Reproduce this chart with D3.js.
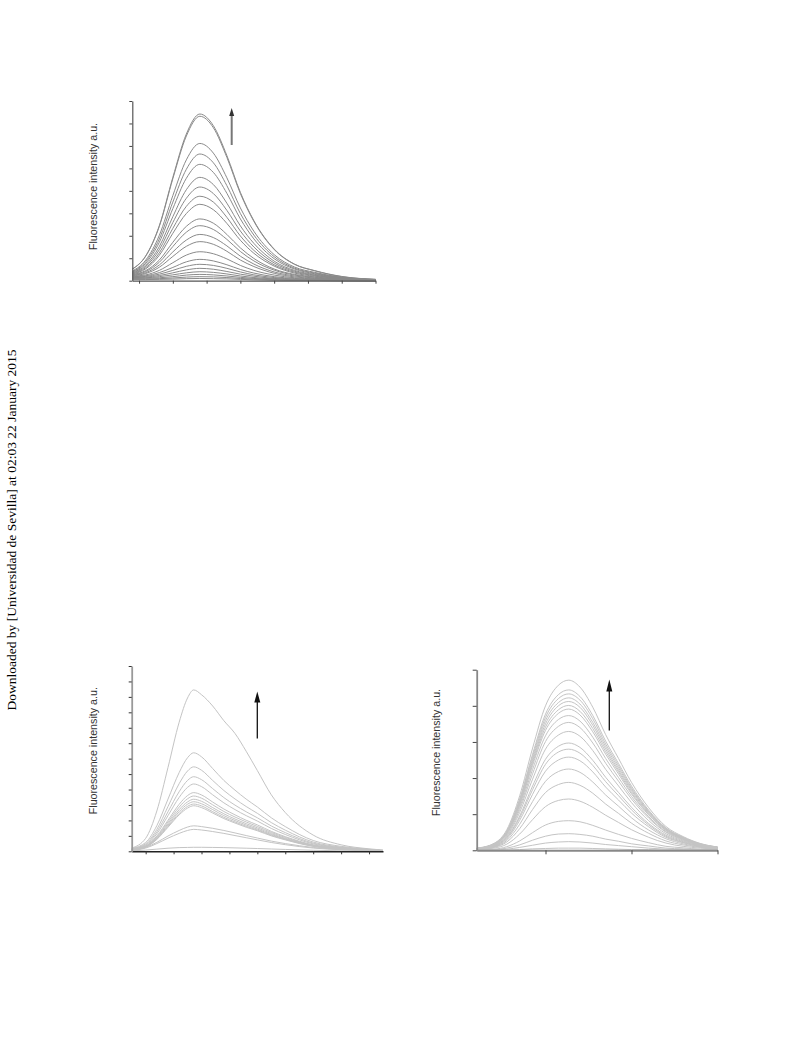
<!DOCTYPE html>
<html><head><meta charset="utf-8">
<script src="https://cdn.jsdelivr.net/npm/d3@7"></script>
<style>html,body{margin:0;padding:0;background:#fff;} svg{display:block;}</style>
</head><body>
<svg id="c" width="812" height="1057"></svg>
<script>
// ---------------- DATA ----------------
const yLabel = "Fluorescence intensity a.u.";
const watermark = "Downloaded by [Universidad de Sevilla] at 02:03 22 January 2015";

// Panel A (top)
const aWavelengths = [390,410,430,450,470,490,510,530,550,570,600,630,660,700,750];
const aSeries = [
 [52,111,245,460,653,742,690,557,393,267,141,74,45,19,6],
 [51,110,242,454,644,732,681,549,388,264,139,73,44,18,6],
 [43,92,202,379,538,611,568,458,324,220,116,61,37,15,5],
 [40,85,186,350,496,564,525,423,299,203,107,56,34,14,5],
 [38,78,171,321,456,518,482,389,275,186,98,52,31,13,4],
 [36,70,152,285,405,460,428,345,244,166,87,46,28,12,4],
 [34,64,138,259,367,417,388,313,221,150,79,42,25,10,3],
 [32,58,124,233,331,376,350,282,199,135,71,38,23,9,3],
 [30,53,113,211,299,340,316,255,180,122,65,34,20,9,3],
 [28,45,92,171,242,275,256,206,146,99,52,28,17,7,2],
 [26,41,82,152,216,245,228,184,130,88,47,25,15,6,2],
 [24,36,70,128,181,206,192,155,109,74,39,21,12,5,2],
 [22,32,60,108,153,174,162,131,92,63,33,17,10,4,1],
 [20,26,46,80,114,129,120,97,68,46,25,13,8,3,1],
 [18,22,36,59,84,95,88,71,50,34,18,10,6,2,1],
 [16,19,29,46,64,73,68,55,39,26,14,7,4,2,1],
 [14,16,23,35,48,55,51,41,29,20,10,6,3,1,0],
 [12,13,18,26,35,40,37,30,21,14,8,4,2,1,0],
 [10,11,13,18,25,28,26,21,15,10,5,3,2,1,0],
 [8,8,9,12,16,18,17,14,10,7,4,2,1,0,0],
 [5,5,6,7,9,10,9,8,6,4,2,1,1,0,0]
];
const aXDomain = [390,750];
const aXTicks = [400,450,500,550,600,650,700,750];
const aYDomain = [0,800];
const aYTicks = [0,100,200,300,400,500,600,700,800];

// Panel B (bottom left)
const bWavelengths = [375,400,420,440,460,475,486,500,520,540,560,580,600,625,650,700,750,800,825];
const bSeries = [
 [21,84,261,543,836,993,1045,1014,941,846,763,648,523,366,251,105,42,16,8],
 [19,57,166,338,510,606,638,612,536,459,396,338,287,217,160,70,32,13,6],
 [16,49,142,290,438,520,547,525,459,394,339,290,246,186,137,60,27,11,5],
 [14,43,126,256,386,459,483,464,406,348,299,256,217,164,121,53,24,10,5],
 [13,39,113,231,349,414,436,419,366,314,270,231,196,148,109,48,22,9,4],
 [11,34,99,201,304,361,380,365,319,274,236,201,171,129,95,42,19,8,4],
 [11,32,93,190,286,340,358,344,301,258,222,190,161,122,90,39,18,7,4],
 [10,30,88,179,270,320,337,324,283,243,209,179,152,115,84,37,17,7,3],
 [10,29,83,170,257,305,321,308,270,231,199,170,144,109,80,35,16,6,3],
 [9,28,80,162,245,291,306,294,257,220,190,162,138,104,77,34,15,6,3],
 [9,27,77,156,236,280,295,283,248,212,183,156,133,100,74,32,15,6,3],
 [7,25,58,99,135,157,165,160,149,135,119,102,86,66,50,25,12,5,2],
 [6,21,50,85,116,135,142,138,128,116,102,88,74,57,43,21,10,4,2],
 [3,8,14,20,24,25,26,26,25,24,22,20,18,15,12,7,3,1,1]
];
const bXDomain = [375,825];
const bXTicks = [400,450,500,550,600,650,700,750,800];
const bYDomain = [0,1200];
const bYTicks = [0,100,200,300,400,500,600,700,800,900,1000,1100,1200];

// Panel C (bottom right)
const cWavelengths = [420,440,455,470,485,500,515,527,540,555,570,585,600,620,640,660,680,700];
const cSeries = [
 [6,19,57,151,283,400,457,471,452,396,320,254,188,118,66,38,19,9],
 [5,18,53,142,266,377,431,444,426,373,302,240,178,111,62,36,18,9],
 [5,17,52,139,260,368,420,433,416,364,294,234,173,108,61,35,17,9],
 [5,17,51,135,253,359,409,422,405,354,287,228,169,106,59,34,17,8],
 [5,16,49,132,247,350,400,412,396,346,280,222,165,103,58,33,16,8],
 [5,16,48,128,241,341,389,401,385,337,273,217,160,100,56,32,16,8],
 [5,16,47,125,235,332,379,391,375,328,266,211,156,98,55,31,16,8],
 [4,15,45,119,224,317,362,373,358,313,254,201,149,93,52,30,15,7],
 [4,14,42,113,212,301,343,354,340,297,241,191,142,89,50,28,14,7],
 [4,13,39,105,197,280,319,329,316,276,224,178,132,82,46,26,13,7],
 [4,12,36,95,178,252,288,297,285,249,202,160,119,74,42,24,12,6],
 [3,11,34,90,168,238,272,280,269,235,190,151,112,70,39,22,11,6],
 [3,10,31,83,155,219,250,258,248,217,175,139,103,65,36,21,10,5],
 [3,9,27,72,135,191,218,225,216,189,153,122,90,56,32,18,9,5],
 [2,8,23,60,113,160,182,188,180,158,128,102,75,47,26,15,8,4],
 [2,6,17,45,85,121,138,142,136,119,97,77,57,36,20,11,6,3],
 [1,3,10,26,49,70,80,82,79,69,56,44,33,21,11,7,3,2],
 [1,2,6,15,28,39,45,46,44,39,31,25,18,12,6,4,2,1],
 [0,1,3,8,14,20,23,24,23,20,16,13,10,6,3,2,1,0],
 [0,0,1,2,4,5,6,6,6,5,4,3,2,2,1,1,0,0]
];
const cXDomain = [420,700];
const cXTicks = [500,600,700];
const cYDomain = [0,500];
const cYTicks = [0,100,200,300,400,500];

// ---------------- DRAW ----------------
const svg = d3.select("#c");
svg.append("rect").attr("width",812).attr("height",1057).attr("fill","#fff");

function panel(o){
  const x = d3.scaleLinear().domain(o.xDomain).range(o.xRange);
  const y = d3.scaleLinear().domain(o.yDomain).range(o.yRange);
  const g = svg.append("g");
  const line = d3.line().x((d,i)=>x(o.xs[i])).y(d=>y(d)).curve(d3.curveMonotoneX);
  g.append("g").selectAll("path").data(o.series).join("path")
    .attr("d", line).attr("fill","none")
    .attr("stroke", o.lineColor).attr("stroke-width", o.lineWidth);

  const xa = g.append("g").attr("transform",`translate(0,${o.yRange[0]})`)
    .call(d3.axisBottom(x).tickValues(o.xTicks).tickSize(o.tickLen).tickSizeOuter(0).tickFormat(""));
  xa.select(".domain").attr("stroke", o.xAxisColor).attr("stroke-width", o.xAxisWidth);
  xa.selectAll(".tick line").attr("stroke", o.tickColor);
  const ya = g.append("g").attr("transform",`translate(${o.xRange[0]},0)`)
    .call(d3.axisLeft(y).tickValues(o.yTicks).tickSize(o.tickLen).tickSizeOuter(0).tickFormat(""));
  ya.select(".domain").attr("stroke", o.yAxisColor).attr("stroke-width", o.yAxisWidth);
  ya.selectAll(".tick line").attr("stroke", o.tickColor);

  g.append("text").attr("transform",`translate(${o.labelX},${o.labelY}) rotate(-90)`)
    .attr("text-anchor","middle").attr("font-family","'Liberation Sans', Arial, sans-serif")
    .attr("font-size",10.7).attr("fill","#333").text(yLabel);

  // arrow
  const a = o.arrow;
  g.append("line").attr("x1",a.x).attr("x2",a.x).attr("y1",a.y1).attr("y2",a.y0+a.head-1)
    .attr("stroke",a.shaft).attr("stroke-width",a.w);
  g.append("path").attr("d",`M${a.x},${a.y0} L${a.x-a.hw},${a.y0+a.head} L${a.x+a.hw},${a.y0+a.head} Z`)
    .attr("fill",a.headColor);
}

panel({xs:aWavelengths, series:aSeries, xDomain:aXDomain, yDomain:aYDomain, xTicks:aXTicks, yTicks:aYTicks,
  xRange:[132.3,375.5], yRange:[280.7,101], lineColor:"#8a8a8a", lineWidth:1,
  xAxisColor:"#555", xAxisWidth:1.2, yAxisColor:"#555", yAxisWidth:1.2, tickColor:"#444", tickLen:3,
  labelX:96.5, labelY:186.5,
  arrow:{x:231.7, y0:108, y1:145, head:8, hw:2.5, w:2, shaft:"#777", headColor:"#333"}});

panel({xs:bWavelengths, series:bSeries, xDomain:bXDomain, yDomain:bYDomain, xTicks:bXTicks, yTicks:bYTicks,
  xRange:[131.7,383], yRange:[851.3,666], lineColor:"#c4c4c4", lineWidth:1,
  xAxisColor:"#222", xAxisWidth:1.5, yAxisColor:"#999", yAxisWidth:1.8, tickColor:"#333", tickLen:3,
  labelX:96.5, labelY:750.7,
  arrow:{x:257.3, y0:691.5, y1:738.5, head:11, hw:3, w:1.3, shaft:"#111", headColor:"#111"}});

panel({xs:cWavelengths, series:cSeries, xDomain:cXDomain, yDomain:cYDomain, xTicks:cXTicks, yTicks:cYTicks,
  xRange:[476.7,717.5], yRange:[850.3,669.7], lineColor:"#c4c4c4", lineWidth:1,
  xAxisColor:"#888", xAxisWidth:2, yAxisColor:"#888", yAxisWidth:1.8, tickColor:"#444", tickLen:4,
  labelX:439.5, labelY:752.5,
  arrow:{x:609.3, y0:679.5, y1:730.5, head:12, hw:3, w:1.3, shaft:"#111", headColor:"#111"}});

// watermark
svg.append("text").attr("transform","translate(16,530) rotate(-90)")
  .attr("text-anchor","middle").attr("font-family","'Liberation Serif','Times New Roman',serif")
  .attr("font-size",13.5).attr("fill","#000").text(watermark);
</script>
</body></html>
